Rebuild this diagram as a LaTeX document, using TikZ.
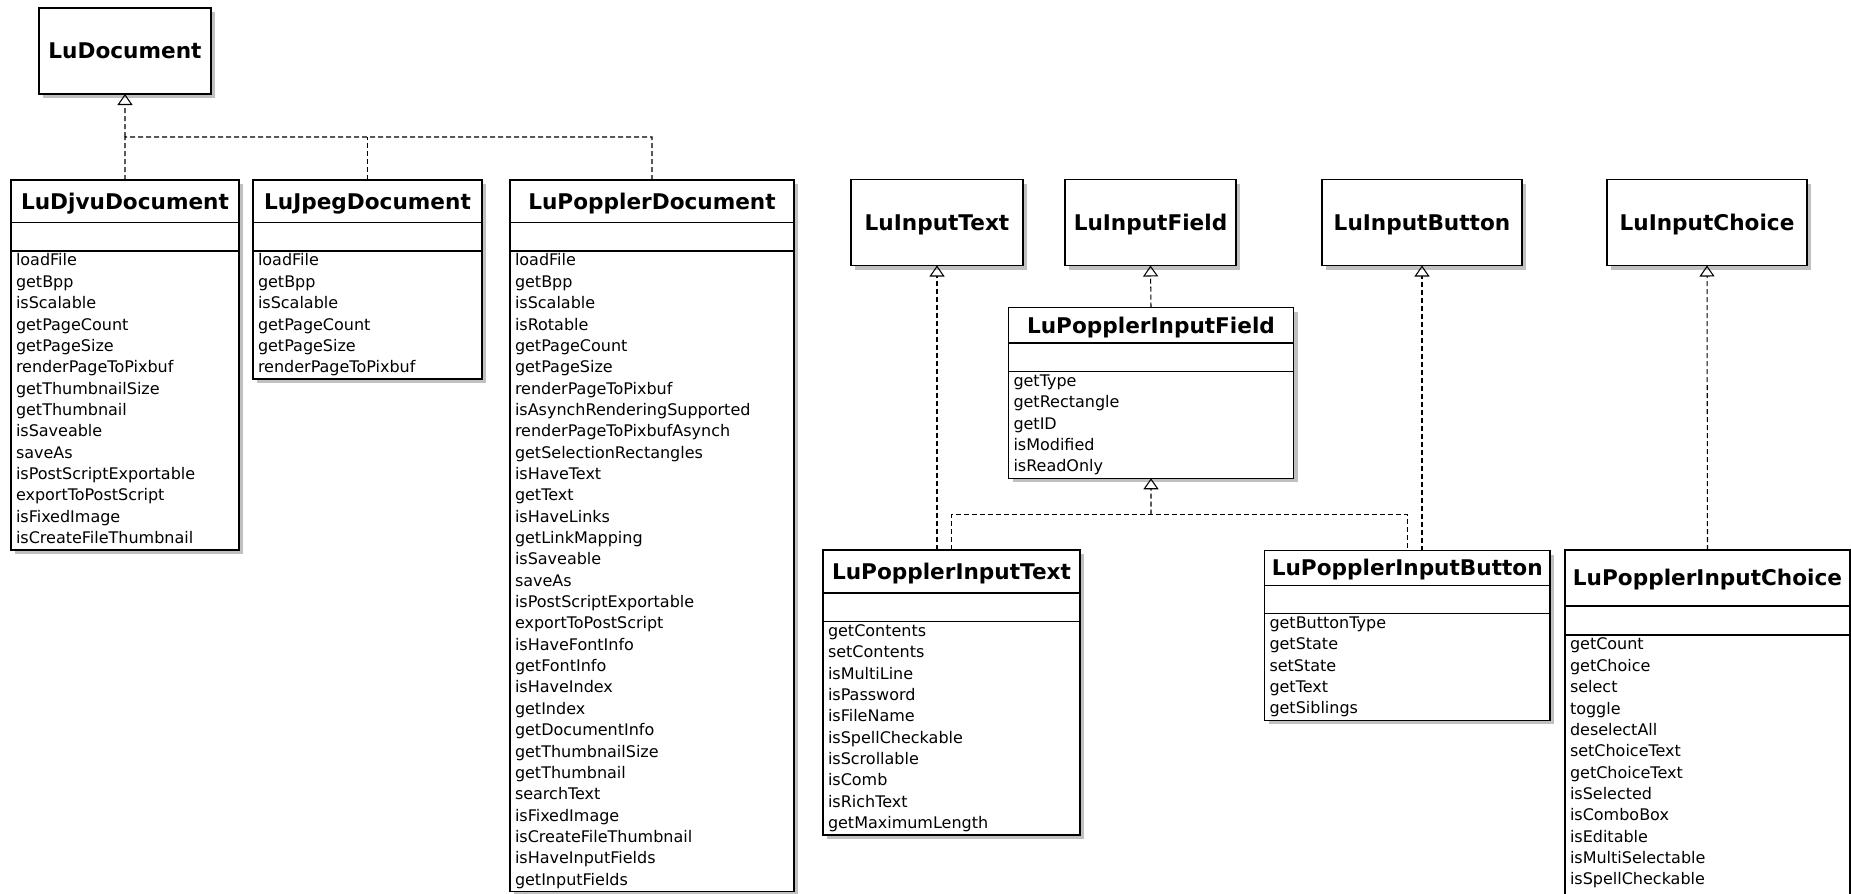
\documentclass[tikz,border=0pt]{standalone}
\usepackage{fontspec}
\setmainfont{DejaVu Sans}
\usetikzlibrary{arrows.meta}
\usetikzlibrary{positioning}
\usetikzlibrary{shadows}
\tikzset{>={Triangle[open,width=0.3cm,length=0.22cm]}}
\definecolor{umlshadow}{RGB}{192,192,192}
\tikzstyle{umlbox}=[draw=black,line width=0.7pt,fill=white,inner sep=0pt,outer sep=0pt,
  drop shadow={shadow xshift=0.08cm,shadow yshift=-0.08cm,fill=umlshadow,opacity=1}]
\tikzstyle{iface}=[umlbox,anchor=north west,minimum height=1.72cm,text height=9pt,text depth=0pt,
  font=\fontsize{12.3}{14}\selectfont\bfseries]
\tikzstyle{cname}=[umlbox,anchor=north west,text height=9pt,text depth=0pt,
  font=\fontsize{12.3}{14}\selectfont\bfseries]
\tikzstyle{catt}=[umlbox]
\tikzstyle{cops}=[umlbox,align=left,inner xsep=0.1cm,inner ysep=0pt,
  font=\fontsize{9.1}{12.15}\selectfont,
  execute at begin node=\strut,execute at end node=\strut]
\tikzstyle{dashline}=[draw=black,line width=0.6pt,dash pattern=on 0.1cm off 0.06cm]
\tikzstyle{realize}=[dashline,->]

\begin{document}
\begin{tikzpicture}
    \useasboundingbox (0,0) rectangle (37.02,-17.86);

    % interfaces
    \node[iface,minimum width=3.44cm] (ludoc) at (0.78,-0.16) {LuDocument};
    \node[iface,minimum width=3.44cm] (itext) at (17.02,-3.59) {LuInputText};
    \node[iface,minimum width=3.42cm] (ifield) at (21.30,-3.59) {LuInputField};
    \node[iface,minimum width=4.00cm] (ibutton) at (26.44,-3.59) {LuInputButton};
    \node[iface,minimum width=4.00cm] (ichoice) at (32.14,-3.59) {LuInputChoice};

    % documents
    \node[cname,minimum width=4.56cm,minimum height=0.85cm] (djvu) at (0.22,-3.60) {LuDjvuDocument};
    \node[catt,minimum width=4.56cm,minimum height=0.57cm,below=0pt of djvu] (djvu-att) {};
    \node[cops,text width=4.36cm,below=0pt of djvu-att] (djvu-ops) {loadFile\\getBpp\\isScalable\\
      getPageCount\\getPageSize\\renderPageToPixbuf\\getThumbnailSize\\getThumbnail\\isSaveable\\
      saveAs\\isPostScriptExportable\\exportToPostScript\\isFixedImage\\isCreateFileThumbnail};

    \node[cname,minimum width=4.58cm,minimum height=0.85cm] (jpeg) at (5.06,-3.60) {LuJpegDocument};
    \node[catt,minimum width=4.58cm,minimum height=0.57cm,below=0pt of jpeg] (jpeg-att) {};
    \node[cops,text width=4.38cm,below=0pt of jpeg-att] (jpeg-ops) {loadFile\\getBpp\\isScalable\\
      getPageCount\\getPageSize\\renderPageToPixbuf};

    \node[cname,minimum width=5.68cm,minimum height=0.85cm] (popdoc) at (10.20,-3.60) {LuPopplerDocument};
    \node[catt,minimum width=5.68cm,minimum height=0.57cm,below=0pt of popdoc] (popdoc-att) {};
    \node[cops,text width=5.48cm,below=0pt of popdoc-att] (popdoc-ops) {loadFile\\getBpp\\isScalable\\
      isRotable\\getPageCount\\getPageSize\\renderPageToPixbuf\\isAsynchRenderingSupported\\
      renderPageToPixbufAsynch\\getSelectionRectangles\\isHaveText\\getText\\isHaveLinks\\
      getLinkMapping\\isSaveable\\saveAs\\isPostScriptExportable\\exportToPostScript\\
      isHaveFontInfo\\getFontInfo\\isHaveIndex\\getIndex\\getDocumentInfo\\getThumbnailSize\\
      getThumbnail\\searchText\\isFixedImage\\isCreateFileThumbnail\\isHaveInputFields\\
      getInputFields};

    % input fields
    \node[cname,minimum width=5.70cm,minimum height=0.71cm] (pfield) at (20.17,-6.15) {LuPopplerInputField};
    \node[catt,minimum width=5.70cm,minimum height=0.57cm,below=0pt of pfield] (pfield-att) {};
    \node[cops,text width=5.50cm,below=0pt of pfield-att] (pfield-ops) {getType\\getRectangle\\getID\\
      isModified\\isReadOnly};

    \node[cname,minimum width=5.14cm,minimum height=0.86cm] (ptext) at (16.46,-11.00) {LuPopplerInputText};
    \node[catt,minimum width=5.14cm,minimum height=0.57cm,below=0pt of ptext] (ptext-att) {};
    \node[cops,text width=4.94cm,below=0pt of ptext-att] (ptext-ops) {getContents\\setContents\\
      isMultiLine\\isPassword\\isFileName\\isSpellCheckable\\isScrollable\\isComb\\isRichText\\
      getMaximumLength};

    \node[cname,minimum width=5.71cm,minimum height=0.70cm] (pbutton) at (25.29,-11.01) {LuPopplerInputButton};
    \node[catt,minimum width=5.71cm,minimum height=0.56cm,below=0pt of pbutton] (pbutton-att) {};
    \node[cops,text width=5.51cm,below=0pt of pbutton-att] (pbutton-ops) {getButtonType\\getState\\
      setState\\getText\\getSiblings};

    \node[cname,minimum width=5.70cm,minimum height=1.12cm] (pchoice) at (31.30,-11.00) {LuPopplerInputChoice};
    \node[catt,minimum width=5.70cm,minimum height=0.58cm,below=0pt of pchoice] (pchoice-att) {};
    \node[cops,text width=5.50cm,below=0pt of pchoice-att] (pchoice-ops) {getCount\\getChoice\\select\\
      toggle\\deselectAll\\setChoiceText\\getChoiceText\\isSelected\\isComboBox\\isEditable\\
      isMultiSelectable\\isSpellCheckable\\ ~};

    % realizations
    \coordinate (docbus) at (2.50,-2.74);
    \coordinate (fieldbus) at (23.02,-10.29);
    \draw[realize] (docbus) -- (ludoc.south);
    \draw[dashline] (djvu.north) -- (docbus) -| (popdoc.north);
    \draw[dashline] (jpeg.north) -- (jpeg.north |- docbus);

    \draw[realize] (pfield.north) -- (ifield.south);
    \draw[realize] (fieldbus) -- (pfield-ops.south);
    \draw[dashline] (ptext.north) |- (fieldbus) -| (pbutton.north);
    \draw[realize] (ptext.north -| itext.south) -- (itext.south);
    \draw[realize] (pbutton.north -| ibutton.south) -- (ibutton.south);
    \draw[realize] (pchoice.north) -- (ichoice.south);
\end{tikzpicture}
\end{document}
